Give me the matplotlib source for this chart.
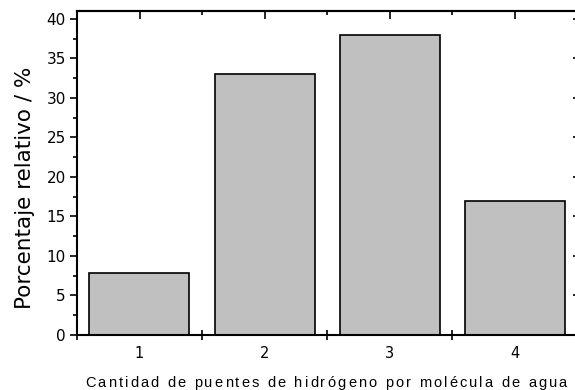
import matplotlib
matplotlib.use("Agg")
import matplotlib.pyplot as plt
from matplotlib import font_manager
from matplotlib.ft2font import FT2Font
from matplotlib.ticker import FixedLocator

# ==========================================================
# Data
# ==========================================================
bridges = [1, 2, 3, 4]
percent = [7.8, 33.0, 38.0, 17.0]

XLABEL = "Cantidad de puentes de hidrógeno por molécula de agua"
YLABEL = "Porcentaje relativo / %"

DPI = 100
FONT = "DejaVu Sans"
XLABEL_FONT = "Liberation Sans"
W, H = 575, 390

plt.rcParams.update({
    "font.family": FONT,
    "font.size": 10,
    "axes.linewidth": 1.5,
})

fig = plt.figure(figsize=(W / DPI, H / DPI), dpi=DPI)
ax = fig.add_axes([77 / W, 55 / H, 500 / W, 324 / H])

ax.bar(bridges, percent, width=0.8, color="#c0c0c0",
       edgecolor="black", linewidth=1.2, zorder=2)

ax.set_xlim(0.5, 4.5)
ax.set_ylim(0, 41)

ax.set_xticks(bridges)
ax.xaxis.set_minor_locator(FixedLocator([0.5, 1.5, 2.5, 3.5, 4.5]))
ax.set_yticks(range(0, 41, 5))
ax.yaxis.set_minor_locator(FixedLocator([2.5 + 5 * i for i in range(8)]))

ax.tick_params(axis="x", which="major", direction="in", length=6, width=1.2,
               top=False, bottom=True, pad=8, labelsize=10.5)
ax.tick_params(axis="x", which="minor", direction="inout", length=7, width=1.2,
               top=False, bottom=True)
ax.tick_params(axis="y", which="major", direction="out", length=5, width=1.2,
               left=True, right=False, pad=3, labelsize=11)
ax.tick_params(axis="y", which="minor", direction="out", length=3, width=1.2,
               left=True, right=False)

# ticks along the top and right edges
sec_top = ax.secondary_xaxis("top")
sec_top.set_xticks(bridges)
sec_top.set_xticklabels([])
sec_top.xaxis.set_minor_locator(FixedLocator([1.5, 2.5, 3.5]))
sec_top.tick_params(which="major", direction="in", length=6, width=1.2)
sec_top.tick_params(which="minor", direction="in", length=3, width=1.2)
sec_top.spines["top"].set_linewidth(1.5)

sec_right = ax.secondary_yaxis("right")
sec_right.set_yticks(range(0, 41, 5))
sec_right.set_yticklabels([])
sec_right.tick_params(direction="in", length=3, width=1.2)
sec_right.spines["right"].set_linewidth(1.5)

ax.set_ylabel(YLABEL, fontsize=15.5)
ax.yaxis.set_label_coords(-0.084, 0.455)

# x label, drawn one glyph at a time to get the wide letter spacing
font_path = font_manager.findfont(font_manager.FontProperties(family=XLABEL_FONT))
ft = FT2Font(font_path)
size_pt = 10.5
ft.set_size(size_pt, DPI)
advances = []
for ch in XLABEL:
    g = ft.load_char(ord(ch))
    advances.append(g.linearHoriAdvance / 65536.0)

x_start, x_end = 85, 567
natural = sum(advances[:-1])
track = (x_end - x_start - natural - advances[-1]) / (len(XLABEL) - 1)
x = x_start
for ch, adv in zip(XLABEL, advances):
    fig.text(x / W, (H - 387) / H, ch, fontsize=size_pt, family=XLABEL_FONT,
             ha="left", va="baseline")
    x += adv + track

fig.savefig("out.png", dpi=DPI)
